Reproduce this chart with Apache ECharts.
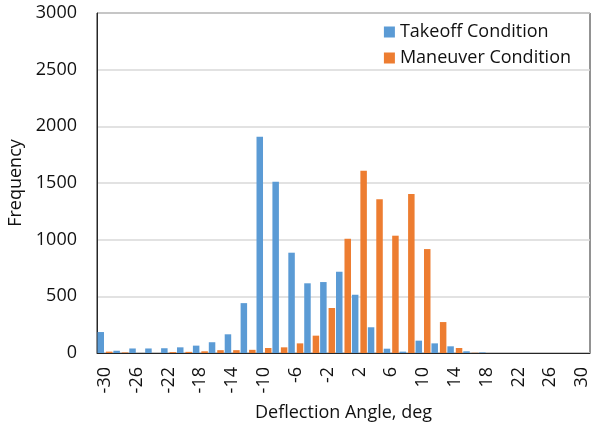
<!DOCTYPE html>
<html>
<head>
<meta charset="utf-8">
<script src="https://cdn.jsdelivr.net/npm/echarts@6/dist/echarts.min.js"></script>
<style>html,body{margin:0;padding:0;background:#fff}#c{width:597px;height:427px}</style>
</head>
<body>
<div id="c"></div>
<script>
const categories = [-30,-28,-26,-24,-22,-20,-18,-16,-14,-12,-10,-8,-6,-4,-2,0,2,4,6,8,10,12,14,16,18,20,22,24,26,28,30];
const takeoff = [185,20,40,40,42,50,65,95,165,440,1908,1511,885,615,626,717,514,227,38,12,109,85,59,15,5,0,0,0,0,0,0];
const maneuver = [12,5,0,0,8,10,15,25,25,28,44,50,85,153,397,1008,1608,1356,1035,1403,917,273,44,2,0,0,0,0,0,0,0];
const yTicks = {min:0, max:3000, interval:500};
const seriesNames = ['Takeoff Condition','Maneuver Condition'];

const FONT = '"Open Sans", "Noto Sans", sans-serif';
const chart = echarts.init(document.getElementById('c'), null, {renderer:'canvas'});
chart.setOption({
  animation:false,
  textStyle:{fontFamily:FONT},
  grid:{left:97,right:7,top:13,bottom:74,containLabel:false,outerBoundsMode:'none',show:true,borderColor:'#262626',borderWidth:1,backgroundColor:'transparent'},
  legend:{
    data:seriesNames, orient:'vertical', right:21, top:18,
    itemWidth:11, itemHeight:11, itemGap:8, icon:'rect',
    textStyle:{fontFamily:FONT,fontSize:18,color:'#111'}
  },
  xAxis:{
    type:'category', data:categories.map(String),
    name:'Deflection Angle, deg', nameLocation:'middle', nameGap:51,
    nameTextStyle:{fontFamily:FONT,fontSize:18,color:'#111'},
    axisLine:{lineStyle:{color:'#262626',width:1}},
    axisTick:{show:false},
    axisLabel:{interval:1,rotate:90,margin:14,fontFamily:FONT,fontSize:18,color:'#111'}
  },
  yAxis:{
    type:'value', min:yTicks.min, max:yTicks.max, interval:yTicks.interval,
    name:'Frequency', nameLocation:'middle', nameRotate:90, nameGap:65,
    nameTextStyle:{fontFamily:FONT,fontSize:18,color:'#111'},
    axisLine:{show:true,lineStyle:{color:'#262626',width:1}},
    axisTick:{show:false},
    axisLabel:{margin:20,fontFamily:FONT,fontSize:18,color:'#111',formatter:function(v){return String(v);}},
    splitLine:{lineStyle:{color:'#d9d9d9',width:1.5}}
  },
  series:[
    {name:seriesNames[0],type:'bar',data:takeoff,barWidth:6.5,barGap:'30%',itemStyle:{color:'#5b9bd5'}},
    {name:seriesNames[1],type:'bar',data:maneuver,barWidth:6.5,barGap:'30%',itemStyle:{color:'#ed7d31'}}
  ]
});
</script>
</body>
</html>
